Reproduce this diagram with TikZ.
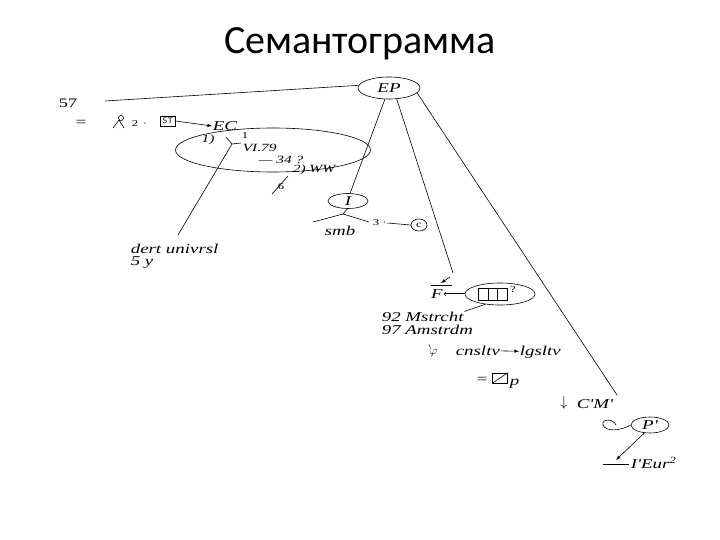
\documentclass[tikz,border=0pt]{standalone}
\usepackage{fontspec}
\usepackage{amssymb}
\setmainfont{Liberation Serif}
\newfontfamily\scanfont[FakeStretch=1.4]{Liberation Serif}
\newfontfamily\titlefont{Carlito}
\usetikzlibrary{positioning,shapes.geometric,arrows.meta}

\begin{document}
\begin{tikzpicture}[x=1pt, y=-1pt,
	oval/.style={ellipse, draw=black, inner sep=0pt},
	lbl/.style={font=\scanfont\itshape\fontsize{13.5}{13.5}\selectfont, inner sep=0.5pt},
	sml/.style={font=\scanfont\itshape\fontsize{11}{11}\selectfont, inner sep=0.5pt},
	wee/.style={font=\scanfont\fontsize{9}{9}\selectfont, inner sep=0.5pt},
	line width=0.6pt
	]
	\useasboundingbox (0,0) rectangle (720,540);

	\node (title) [font=\titlefont\fontsize{40}{48}\selectfont, anchor=base] at (360,54) {Семантограмма};

	\node (ep) [lbl, oval, minimum width=62pt, minimum height=22pt] at (389,88) {EP};

		\node (n57) [font=\scanfont\fontsize{13}{13}\selectfont] at (68,103) {57};
		\coordinate (start57) at (105,101);
		\node (eq) [lbl] at (81,123) {=};
		\coordinate (fig) at (119,127);
		\node (two) [wee, anchor=west] at (131,124) {2 \,·};
		\node (st) [draw, font=\sffamily\fontsize{8}{8}\selectfont, inner sep=2pt] at (168,121) {ST};
		\node (ec) [lbl, anchor=west] at (212,126) {EC};

		\node (ecoval) [oval, minimum width=195pt, minimum height=44pt] at (273,150) {};
			\node (one) [sml] at (208,140) {1)};
			\coordinate (hooka) at (226,137);
			\coordinate (hook) at (232,144);
			\coordinate (hookb) at (241,143);
			\node (sup1) [wee] at (245,136) {1};
			\node (vi) [sml, anchor=west] at (242,148) {VI.79};
			\node (n34) [sml, anchor=west] at (258,160) {— 34 ?};
			\node (ww) [sml, anchor=west] at (292,170) {2) WW};
			\coordinate (sixtop) at (288,176);
			\coordinate (sixbot) at (272,194);
			\node (six) [wee] at (281,187) {6};
		\node (dert) [lbl, anchor=west] at (130,249) {dert univrsl};
		\node (fivey) [lbl, anchor=west] at (130,263) {5 y};
		\coordinate (dertend) at (178,235);

		\node (ioval) [lbl, oval, minimum width=40pt, minimum height=15pt] at (348,201) {I};
			\coordinate (isplit) at (343,214);
			\coordinate (ileft) at (313,222);
			\coordinate (iright) at (369,222);
			\node (smb) [lbl] at (340,231) {smb};
			\node (three) [wee, anchor=west] at (372,223) {3 ·};
			\node (cnode) [wee, oval, minimum width=16pt, minimum height=12pt] at (419,225) {c};

		\coordinate (fend) at (453,273);
		\node (f) [lbl] at (437,294) {F};
			\coordinate (fbara) at (431,285);
			\coordinate (fbarb) at (452,285);
			\coordinate (ticka) at (450,277);
			\coordinate (tickb) at (441,283);
		\node (boxoval) [oval, minimum width=70pt, minimum height=22pt] at (500,294) {};
			\node (cells) [draw, minimum width=29pt, minimum height=12pt, inner sep=0pt] at (493,294) {};
			\node (qm) [wee] at (513,290) {?};
		\node (mst) [lbl, anchor=west] at (381,317) {92 Mstrcht};
		\node (ams) [lbl, anchor=west] at (381,330) {97 Amstrdm};
		\node (phi) [font=\fontsize{12}{12}\selectfont, inner sep=0pt] at (433,351) {$^{\backprime}\!\varphi$};
		\node (cns) [lbl, anchor=base west] at (455,355) {cnsltv};
		\node (lgs) [lbl, anchor=base west] at (519,355) {lgsltv};
		\node (eqp) [lbl] at (482,380) {=};
		\node (pbox) [draw, minimum width=15pt, minimum height=10pt, inner sep=0pt] at (500,378) {};
		\node (p) [lbl, anchor=west] at (509,384) {p};

		\coordinate (cmend) at (617,395);
		\node (down) [font=\fontsize{15}{15}\selectfont] at (564,403) {$\downarrow$};
		\node (cm) [lbl, anchor=west] at (576,404) {C'M'};
		\node (poval) [lbl, oval, minimum width=38pt, minimum height=16pt] at (650,425) {P'};
			\coordinate (pend) at (616,460);
			\coordinate (pbara) at (603,464);
			\coordinate (pbarb) at (629,464);
		\node (eur) [lbl, anchor=west] at (630,463) {I'Eur\textsuperscript{2}};

	\draw (start57) -- (ep.175);
	\draw (fig) ++(2,-9) circle (2.5) ++(-2,2) -- ++(-6,8) ++(6,-8) -- ++(5,8);
	\draw [-latex] (st.east) -- (ec.west);
	\draw (hooka) -- (hook) -- (hookb);
	\draw (hook) -- (dertend);
	\draw (sixtop) -- (sixbot);

	\draw (ep.250) -- (ioval.75);
	\draw (ioval.265) -- (isplit) -- (ileft);
	\draw (isplit) -- (iright);
	\draw (three.east) -- (cnode.west);

	\draw (ep.305) -- (fend);
	\draw (fbara) -- (fbarb);
	\draw [-latex] (ticka) -- (tickb);
	\draw [double, -{Implies}] (boxoval.west) -- (f.east);
	\foreach \i in {1,2}
		\draw ([xshift=\i*9.67pt]cells.north west) -- ([xshift=\i*9.67pt]cells.south west);
	\draw (boxoval.215) -- (mst.north east);
	\draw [-latex] (cns) -- (lgs);
	\draw (pbox.south west) -- (pbox.north east);

	\draw (ep.350) -- (cmend);
	\draw (poval.west) .. controls (620,431) and (606,432) .. (603,425) .. controls (601,419) and (613,418) .. (616,425);
	\draw [-latex] (poval.235) -- (pend);
	\draw (pbara) -- (pbarb);

\end{tikzpicture}
\end{document}
